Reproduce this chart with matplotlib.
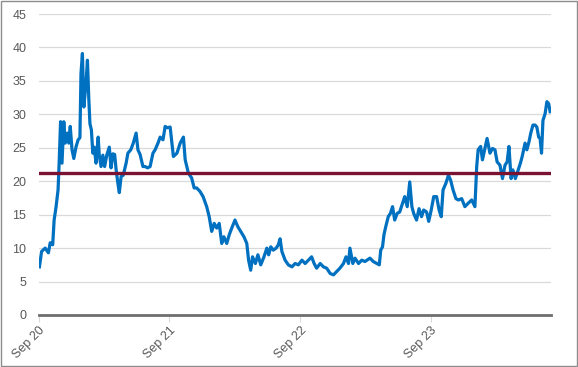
import numpy as np
import pandas as pd
import matplotlib
matplotlib.use("Agg")
import matplotlib.pyplot as plt
import matplotlib.dates as mdates
from matplotlib.patches import Rectangle

# series
dates = [
    "2020-09-03", "2020-09-09", "2020-09-19", "2020-09-28", "2020-10-03", "2020-10-10",
    "2020-10-14", "2020-10-19", "2020-10-25", "2020-10-28", "2020-11-01", "2020-11-05",
    "2020-11-10", "2020-11-14", "2020-11-20", "2020-11-24", "2020-11-28", "2020-12-03",
    "2020-12-08", "2020-12-14", "2020-12-20", "2020-12-25", "2020-12-28", "2021-01-01",
    "2021-01-05", "2021-01-11", "2021-01-15", "2021-01-19", "2021-01-22", "2021-01-26",
    "2021-01-30", "2021-02-03", "2021-02-08", "2021-02-14", "2021-02-17", "2021-02-22",
    "2021-02-27", "2021-03-04", "2021-03-10", "2021-03-17", "2021-03-22", "2021-03-27",
    "2021-04-01", "2021-04-05", "2021-04-10", "2021-04-14", "2021-04-19", "2021-04-25",
    "2021-05-03", "2021-05-08", "2021-05-16", "2021-05-23", "2021-05-31", "2021-06-05",
    "2021-06-11", "2021-06-19", "2021-06-25", "2021-07-02", "2021-07-09", "2021-07-17",
    "2021-07-23", "2021-07-31", "2021-08-06", "2021-08-14", "2021-08-20", "2021-08-26",
    "2021-09-03", "2021-09-12", "2021-09-22", "2021-10-01", "2021-10-10", "2021-10-15",
    "2021-10-24", "2021-11-02", "2021-11-09", "2021-11-16", "2021-11-25", "2021-12-04",
    "2021-12-14", "2021-12-21", "2021-12-28", "2022-01-04", "2022-01-11", "2022-01-18",
    "2022-01-25", "2022-01-31", "2022-02-08", "2022-02-15", "2022-02-22", "2022-03-03",
    "2022-03-11", "2022-03-19", "2022-03-28", "2022-04-05", "2022-04-10", "2022-04-16",
    "2022-04-21", "2022-04-29", "2022-05-06", "2022-05-14", "2022-05-23", "2022-05-31",
    "2022-06-05", "2022-06-11", "2022-06-18", "2022-06-26", "2022-07-02", "2022-07-07",
    "2022-07-12", "2022-07-21", "2022-07-30", "2022-08-09", "2022-08-18", "2022-08-27",
    "2022-09-06", "2022-09-15", "2022-09-24", "2022-10-03", "2022-10-10", "2022-10-17",
    "2022-10-27", "2022-11-05", "2022-11-14", "2022-11-24", "2022-12-03", "2022-12-12",
    "2022-12-21", "2022-12-31", "2023-01-07", "2023-01-14", "2023-01-18", "2023-01-26",
    "2023-02-01", "2023-02-11", "2023-02-20", "2023-03-01", "2023-03-15", "2023-03-24",
    "2023-04-03", "2023-04-10", "2023-04-14", "2023-04-19", "2023-04-23", "2023-04-28",
    "2023-05-05", "2023-05-11", "2023-05-17", "2023-05-23", "2023-05-30", "2023-06-06",
    "2023-06-14", "2023-06-20", "2023-06-27", "2023-07-04", "2023-07-10", "2023-07-15",
    "2023-07-23", "2023-07-30", "2023-08-06", "2023-08-12", "2023-08-20", "2023-08-26",
    "2023-09-02", "2023-09-09", "2023-09-17", "2023-09-24", "2023-09-30", "2023-10-05",
    "2023-10-13", "2023-10-20", "2023-10-26", "2023-11-02", "2023-11-10", "2023-11-17",
    "2023-11-26", "2023-12-05", "2023-12-14", "2023-12-24", "2024-01-02", "2024-01-07",
    "2024-01-11", "2024-01-18", "2024-01-23", "2024-01-30", "2024-02-05", "2024-02-13",
    "2024-02-20", "2024-02-27", "2024-03-04", "2024-03-12", "2024-03-19", "2024-03-26",
    "2024-04-01", "2024-04-06", "2024-04-12", "2024-04-17", "2024-04-24", "2024-04-30",
    "2024-05-08", "2024-05-13", "2024-05-21", "2024-05-26", "2024-06-01", "2024-06-06",
    "2024-06-12", "2024-06-18", "2024-06-23", "2024-06-28", "2024-07-02", "2024-07-06",
    "2024-07-10", "2024-07-16", "2024-07-21", "2024-07-26", "2024-07-30",
]
values = [
    7.2, 9.5, 10.0, 9.3, 10.8, 10.5,
    14.2, 16.0, 18.7, 22.7, 28.9, 22.7,
    28.9, 25.7, 27.2, 25.7, 28.2, 24.7,
    23.4, 25.1, 26.2, 26.5, 36.1, 39.1,
    31.1, 34.6, 38.1, 32.1, 28.6, 27.7,
    24.2, 25.1, 22.7, 26.6, 23.9, 22.2,
    23.9, 22.2, 23.9, 25.1, 22.0, 24.1,
    24.0, 21.8, 19.7, 18.3, 20.7, 20.9,
    22.7, 24.2, 24.7, 25.7, 27.2, 24.7,
    24.0, 22.2, 22.2, 22.0, 22.2, 24.2,
    24.7, 25.7, 26.6, 26.2, 28.2, 28.0,
    28.1, 23.7, 24.2, 25.7, 26.6, 23.2,
    21.2, 20.5, 19.0, 19.0, 18.5, 17.7,
    16.2, 14.7, 12.5, 13.7, 13.0, 13.7,
    10.7, 11.7, 10.7, 12.0, 13.0, 14.2,
    13.2, 12.5, 11.7, 10.7, 8.2, 6.7,
    8.7, 7.7, 9.0, 7.5, 8.7, 10.0,
    9.0, 10.2, 9.7, 10.0, 10.5, 11.4,
    9.5, 8.2, 7.5, 7.2, 7.7, 7.5,
    8.2, 7.7, 8.2, 8.7, 7.7, 7.0,
    7.7, 7.2, 7.0, 6.2, 6.0, 6.5,
    7.0, 7.7, 8.7, 7.7, 10.0, 7.7,
    8.5, 7.7, 8.2, 8.0, 8.5, 8.0,
    7.7, 7.5, 9.7, 10.2, 12.0, 13.2,
    14.7, 15.2, 16.2, 14.2, 15.2, 15.4,
    16.7, 17.7, 16.2, 19.9, 16.2, 15.2,
    14.2, 15.9, 14.7, 15.7, 15.4, 14.0,
    15.7, 17.7, 17.7, 15.7, 14.7, 18.7,
    19.7, 20.9, 20.2, 18.7, 17.4, 17.2,
    17.4, 16.2, 16.7, 17.2, 16.2, 22.2,
    24.7, 25.2, 23.2, 24.9, 26.4, 24.2,
    24.9, 24.7, 22.9, 22.4, 20.4, 22.4,
    22.9, 25.2, 20.4, 21.7, 20.4, 21.4,
    22.7, 23.7, 25.7, 24.7, 25.9, 27.2,
    28.4, 28.4, 28.1, 26.6, 26.4, 24.2,
    29.1, 30.1, 31.9, 31.6, 30.4,
]
average_level = 21.2

x_start = "2020-09-01"
x_end = "2024-08-01"
tick_dates = ["2020-09-01", "2021-09-01", "2022-09-01", "2023-09-01"]

plt.rcParams['font.family'] = ['Liberation Sans', 'DejaVu Sans']

fig = plt.figure(figsize=(5.78, 3.67), dpi=100)
ax = fig.add_axes([0.067, 0.1417, 0.886, 0.82])

ax.plot(pd.to_datetime(dates), values, color='#0070c0', lw=2.3,
        solid_joinstyle='round', zorder=3)
ax.axhline(average_level, color='#7a1232', lw=2.4, zorder=4)

ax.set_xlim(pd.Timestamp(x_start), pd.Timestamp(x_end))
ax.set_ylim(0, 45)
ax.set_yticks(np.arange(0, 46, 5))
ax.set_xticks(pd.to_datetime(tick_dates))
ax.xaxis.set_major_formatter(mdates.DateFormatter('%b %y'))

ax.grid(axis='y', color='#d9d9d9', lw=0.9)
ax.set_axisbelow(True)
for s in ['top', 'right', 'left']:
    ax.spines[s].set_visible(False)
ax.spines['bottom'].set_color('#6e6e6e')
ax.spines['bottom'].set_linewidth(2.0)
ax.spines['bottom'].set_zorder(5)

ax.tick_params(axis='y', length=0, pad=9, labelsize=9, labelcolor='#595959')
ax.tick_params(axis='x', length=5, width=0.8, color='#d9d9d9', pad=2,
               labelsize=9, labelcolor='#595959')
for lab in ax.get_xticklabels():
    lab.set_rotation(45)
    lab.set_ha('right')
    lab.set_rotation_mode('anchor')

fig.patches.append(Rectangle((0.001, 0.002), 0.997, 0.996, transform=fig.transFigure,
                             fill=False, edgecolor='#8c8c8c', lw=1.0))

fig.savefig('out.png', dpi=100)
